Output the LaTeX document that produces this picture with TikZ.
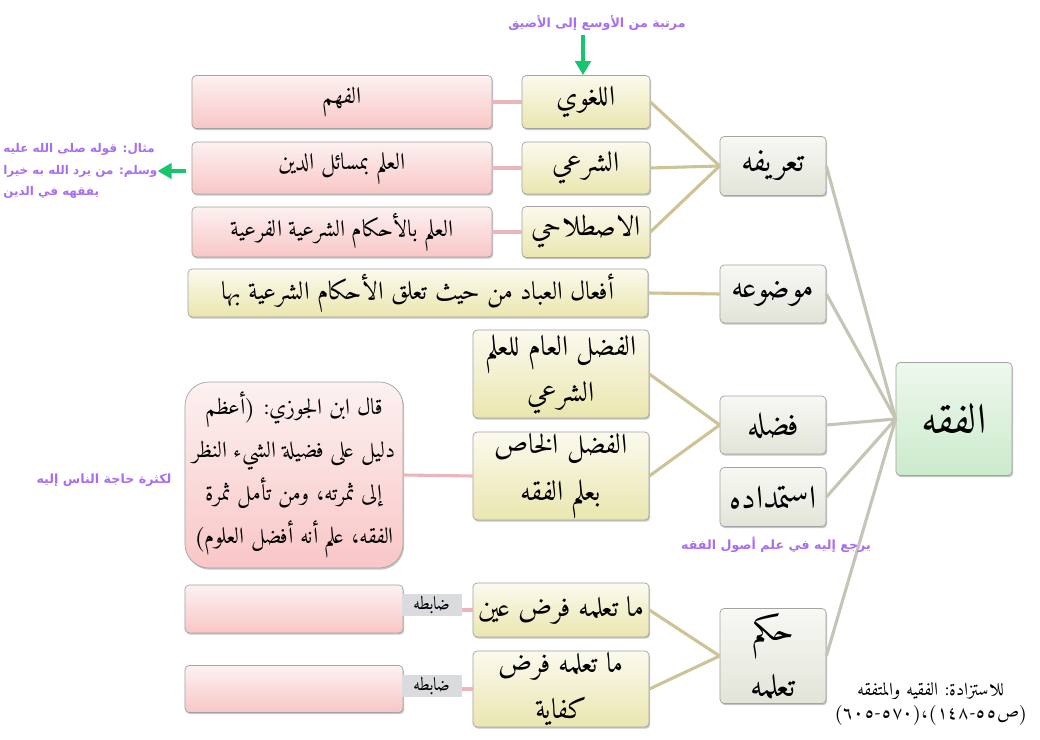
\documentclass[tikz,border=0pt]{standalone}
\usepackage{fontspec}
\usepackage{tikz}
\usetikzlibrary{shadows,arrows.meta}
\TeXXeTstate=1
\newfontfamily\naskh[Script=Arabic]{Amiri-Regular.ttf}
\newfontfamily\notefont[Script=Arabic]{DejaVu Sans}
\newcommand{\AR}[1]{\beginR#1\endR}

\definecolor{pinktop}{HTML}{FDF1F1}
\definecolor{pinkbot}{HTML}{F9C6C6}
\definecolor{creamtop}{HTML}{FBFAEE}
\definecolor{creambot}{HTML}{EAE6AF}
\definecolor{greytop}{HTML}{F8F8F4}
\definecolor{greybot}{HTML}{E2E4D8}
\definecolor{greentop}{HTML}{EEF8EE}
\definecolor{greenbot}{HTML}{CBEACB}
\definecolor{boxline}{HTML}{A3A3A3}
\definecolor{tanline}{HTML}{CCC497}
\definecolor{stemline}{HTML}{C6C4B4}
\definecolor{pinkline}{HTML}{EBB5BA}
\definecolor{notepurple}{HTML}{A86EF2}
\definecolor{arrowgreen}{HTML}{17C56E}
\definecolor{tagfill}{HTML}{DADBDE}

\tikzset{
	box/.style={draw=boxline, line width=0.5pt, rounded corners=3pt, inner sep=0pt, align=center,
		drop shadow={shadow xshift=0.8pt, shadow yshift=-1.2pt, opacity=0.45}},
	defbox/.style={box, top color=pinktop, bottom color=pinkbot, font=\naskh\fontsize{16.5}{20}\selectfont},
	quotebox/.style={defbox, rounded corners=17pt, font=\naskh\fontsize{16}{30.5}\selectfont},
	subbox/.style={box, top color=creamtop, bottom color=creambot, font=\naskh\fontsize{20}{33}\selectfont},
	headbox/.style={box, top color=greytop, bottom color=greybot, font=\naskh\fontsize{23}{40}\selectfont},
	rootbox/.style={box, top color=greentop, bottom color=greenbot, font=\naskh\fontsize{30}{34}\selectfont},
	tagbox/.style={fill=tagfill, inner sep=0pt, minimum width=1.5cm, minimum height=0.55cm,
		font=\naskh\fontsize{13}{14}\selectfont},
	note/.style={text=notepurple, font=\notefont\bfseries\fontsize{9}{15.5}\selectfont},
	endnote/.style={align=center, font=\naskh\fontsize{13}{16.5}\selectfont},
	branch/.style={tanline, line width=2.2pt},
	stem/.style={stemline, line width=2.2pt},
	link/.style={pinkline, line width=2.2pt},
	greenarrow/.style={arrowgreen, line width=3.5pt, -{Triangle[width=11pt,length=10pt]}}
}

\begin{document}
\begin{tikzpicture}[x=0.025cm,y=-0.025cm]
	\useasboundingbox[fill=white] (0,0) rectangle (1040,740);

	\node[rootbox, minimum width=2.9cm, minimum height=2.825cm] (fiqh) at (954,419) {\AR{الفقه}};

	\node[headbox, minimum width=2.65cm, minimum height=1.475cm] (tarif) at (773,166) {\AR{تعريفه}};
	\node[headbox, minimum width=2.65cm, minimum height=1.45cm] (mawdu) at (773,294) {\AR{موضوعه}};
	\node[headbox, minimum width=2.65cm, minimum height=1.45cm] (fadl) at (773,425) {\AR{فضله}};
	\node[headbox, minimum width=2.65cm, minimum height=1.475cm] (istimdad) at (773,497) {\AR{استمداده}};
	\node[headbox, minimum width=2.65cm, minimum height=2.375cm] (hukm) at (773,656) {\AR{حكم}\\\AR{تعلمه}};

	\node[subbox, minimum width=3.2cm, minimum height=1.325cm] (lugha) at (586,102) {\AR{اللغوي}};
	\node[subbox, minimum width=3.2cm, minimum height=1.3cm] (shari) at (586,168) {\AR{الشرعي}};
	\node[subbox, minimum width=3.2cm, minimum height=1.275cm] (istilah) at (586,232) {\AR{الاصطلاحي}};
	\node[subbox, minimum width=11.5cm, minimum height=1.2cm, font=\naskh\fontsize{18}{22}\selectfont] (afal) at (418,293) {\AR{أفعال العباد من حيث تعلق الأحكام الشرعية بها}};
	\node[subbox, minimum width=4.4cm, minimum height=2.2cm] (amm) at (561,374) {\AR{الفضل العام للعلم}\\\AR{الشرعي}};
	\node[subbox, minimum width=4.4cm, minimum height=2.2cm] (khass) at (561,476) {\AR{الفضل الخاص}\\\AR{بعلم الفقه}};
	\node[subbox, minimum width=4.4cm, minimum height=1.35cm] (ayn) at (561,610) {\AR{ما تعلمه فرض عين}};
	\node[subbox, minimum width=4.4cm, minimum height=1.9cm] (kifaya) at (561,689) {\AR{ما تعلمه فرض}\\\AR{كفاية}};

	\node[defbox, minimum width=7.5cm, minimum height=1.325cm] (fahm) at (342,102) {\AR{الفهم}};
	\node[defbox, minimum width=7.5cm, minimum height=1.3cm] (masail) at (342,168) {\AR{العلم بمسائل الدين}};
	\node[defbox, minimum width=7.5cm, minimum height=1.25cm] (ahkam) at (342,232) {\AR{العلم بالأحكام الشرعية الفرعية}};
	\node[quotebox, minimum width=5.45cm, minimum height=4.65cm] (quote) at (294,475) {\AR{قال ابن الجوزي: (أعظم}\\\AR{دليل على فضيلة الشيء النظر}\\\AR{إلى ثمرته، ومن تأمل ثمرة}\\\AR{الفقه، علم أنه أفضل العلوم)}};
	\node[defbox, minimum width=5.45cm, minimum height=1.2cm] (blankayn) at (294,609) {};
	\node[defbox, minimum width=5.45cm, minimum height=1.175cm] (blankkifaya) at (294,689) {};
	\node[tagbox] (tagayn) at (432,605) {\AR{ضابطه}};
	\node[tagbox] (tagkifaya) at (432,686) {\AR{ضابطه}};

	\foreach \n in {tarif,mawdu,fadl,istimdad,hukm}
		\draw[stem] (\n.east) -- (fiqh.west);
	\foreach \n in {lugha,shari,istilah}
		\draw[branch] (\n.east) -- (tarif.west);
	\draw[branch] (afal.east) -- (mawdu.west);
	\draw[branch] (amm.east) -- (fadl.west);
	\draw[branch] (khass.east) -- (fadl.west);
	\draw[branch] (ayn.east) -- (hukm.west);
	\draw[branch] (kifaya.east) -- (hukm.west);

	\draw[link] (fahm.east) -- (lugha.west);
	\draw[link] (masail.east) -- (shari.west);
	\draw[link] (ahkam.east) -- (istilah.west);
	\draw[link] (quote.east) -- (khass.west);
	\draw[link] (ayn.west) -- (ayn.west -| tagayn.east);
	\draw[link] (kifaya.west) -- (kifaya.west -| tagkifaya.east);

	\node[note] (rank) at (597,23) {\AR{مرتبة من الأوسع إلى الأضيق}};
	\coordinate (rankarrow) at (583,35);
	\draw[greenarrow] (rankarrow) -- (rankarrow |- lugha.north);

	\node[note, align=left, anchor=west, inner sep=0pt, font=\notefont\bfseries\fontsize{8.5}{15.5}\selectfont] (hadith) at (3,171) {\AR{مثال: قوله صلى الله عليه}\\\AR{وسلم: من يرد الله به خيرا}\\\AR{يفقهه في الدين}};
	\coordinate (hadithtail) at (186,171);
	\draw[greenarrow] (hadithtail) -- (hadithtail -| hadith.east);

	\node[note] (need) at (104,480) {\AR{لكثرة حاجة الناس إليه}};
	\node[note] (usul) at (776,545) {\AR{يرجع إليه في علم أصول الفقه}};

	\node[endnote] (more) at (931,704) {\AR{للاستزادة: الفقيه والمتفقه}\\\AR{(ص٥٥-١٤٨)،(٥٧٠-٦٠٥)}};
\end{tikzpicture}
\end{document}
